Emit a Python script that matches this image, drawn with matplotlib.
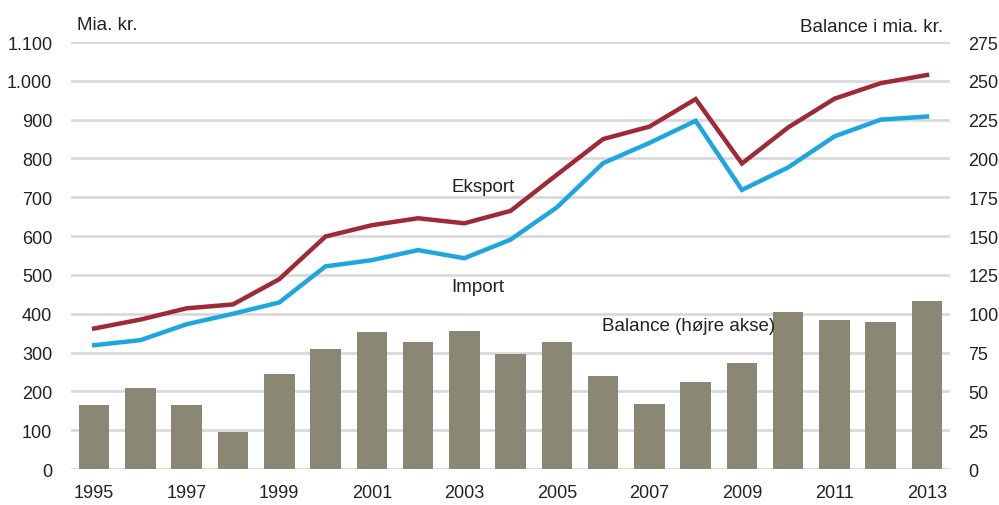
import matplotlib.pyplot as plt

plt.rcParams['font.family'] = ['Liberation Sans', 'DejaVu Sans']

years = list(range(1995, 2014))
eksport = [362, 385, 414, 424, 489, 599, 628, 646, 633, 665, 758, 850, 882, 953, 787, 880, 954, 994, 1015]
importv = [319, 332, 373, 400, 429, 522, 538, 564, 543, 591, 674, 788, 840, 897, 719, 777, 857, 900, 908]
balance = [41, 52, 41, 24, 61, 77, 88, 82, 89, 74, 82, 60, 42, 56, 68, 101, 96, 95, 108]

left_ticks = list(range(0, 1101, 100))
left_labels = ['0', '100', '200', '300', '400', '500', '600', '700', '800', '900', '1.000', '1.100']
right_ticks = list(range(0, 276, 25))

fig = plt.figure(figsize=(9.99, 5.06), dpi=100)
# bars + grid on the back axes, lines on the front axes
ax2 = fig.add_axes([0.0711, 0.0711, 0.88, 0.8439])
ax = ax2.twinx()

ax2.bar(years, balance, width=0.66, color='#8a8775', zorder=2)
ax2.set_ylim(0, 275)
ax2.set_yticks(right_ticks)
ax2.yaxis.tick_right()
ax2.yaxis.set_label_position('right')
ax2.grid(axis='y', color='#d9d9d9', linewidth=2, zorder=0)
ax2.set_axisbelow(True)

ax.plot(years, eksport, color='#9e2a36', linewidth=3.2, solid_joinstyle='miter')
ax.plot(years, importv, color='#1ea6e0', linewidth=3.2, solid_joinstyle='miter')
ax.set_ylim(0, 1100)
ax.set_yticks(left_ticks)
ax.set_yticklabels(left_labels)
ax.yaxis.tick_left()

ax2.set_xlim(1994.5, 2013.5)
ax2.set_xticks(years[::2])

for a in (ax, ax2):
    for s in a.spines.values():
        s.set_visible(False)
    a.tick_params(length=0, labelsize=13, colors='#222222')
ax.tick_params(axis='y', pad=13.5)
ax2.tick_params(axis='y', pad=13)
ax2.tick_params(axis='x', pad=11)

ax.text(2003.4, 727, 'Eksport', fontsize=13.5, ha='center', va='center', color='#222222')
ax.text(2003.3, 471, 'Import', fontsize=13.5, ha='center', va='center', color='#222222')
ax.text(2007.85, 369, 'Balance (højre akse)', fontsize=13.5, ha='center', va='center', color='#222222')

fig.text(77 / 999, 1 - 25 / 506, 'Mia. kr.', fontsize=13.5, ha='left', va='center', color='#222222')
fig.text(943 / 999, 1 - 27 / 506, 'Balance i mia. kr.', fontsize=13.5, ha='right', va='center', color='#222222')

fig.savefig('out.png', dpi=100)
